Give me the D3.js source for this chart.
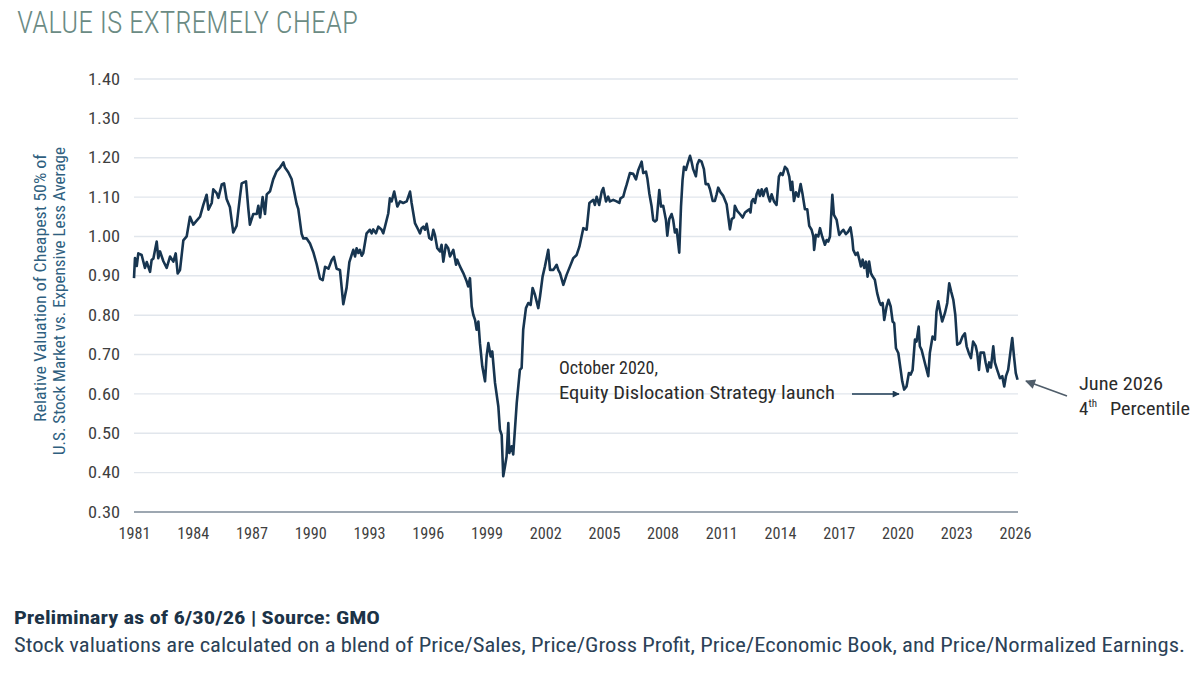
<!DOCTYPE html>
<html>
<head>
<meta charset="utf-8">
<script src="https://cdn.jsdelivr.net/npm/d3@7"></script>
<style>
  body { margin: 0; background: #fff; }
  svg text { font-family: "Roboto Condensed", Roboto, "Liberation Sans", sans-serif; }
</style>
</head>
<body>
<div id="chart"></div>
<script>
// decimal years and the relative valuation
const years = [
  1981.00,1981.05,1981.14,1981.22,1981.39,1981.56,1981.65,1981.82,1981.90,1981.99,
  1982.16,1982.24,1982.33,1982.50,1982.67,1982.84,1983.01,1983.13,1983.23,1983.35,
  1983.52,1983.69,1983.86,1984.03,1984.20,1984.37,1984.54,1984.71,1984.80,1984.97,
  1985.05,1985.22,1985.31,1985.48,1985.60,1985.73,1985.90,1986.07,1986.24,1986.41,
  1986.50,1986.72,1986.84,1986.92,1987.09,1987.27,1987.35,1987.44,1987.57,1987.69,
  1987.78,1987.95,1988.11,1988.29,1988.46,1988.63,1988.71,1988.88,1989.05,1989.22,
  1989.31,1989.39,1989.56,1989.65,1989.82,1989.99,1990.16,1990.33,1990.50,1990.64,
  1990.76,1990.93,1991.10,1991.21,1991.35,1991.52,1991.69,1991.86,1992.00,1992.20,
  1992.29,1992.37,1992.46,1992.54,1992.63,1992.71,1992.88,1993.05,1993.14,1993.22,
  1993.36,1993.48,1993.65,1993.73,1993.82,1993.99,1994.07,1994.16,1994.29,1994.45,
  1994.59,1994.75,1994.93,1995.10,1995.18,1995.35,1995.52,1995.61,1995.69,1995.78,
  1995.86,1995.95,1996.08,1996.20,1996.29,1996.37,1996.49,1996.63,1996.71,1996.80,
  1996.93,1997.05,1997.14,1997.31,1997.45,1997.51,1997.65,1997.82,1997.99,1998.07,
  1998.16,1998.25,1998.33,1998.42,1998.50,1998.59,1998.67,1998.79,1998.93,1999.01,
  1999.10,1999.22,1999.30,1999.44,1999.61,1999.69,1999.78,1999.86,1999.95,2000.03,
  2000.12,2000.17,2000.29,2000.37,2000.55,2000.71,2000.80,2000.88,2001.02,2001.14,
  2001.26,2001.36,2001.48,2001.65,2001.74,2001.87,2001.99,2002.16,2002.25,2002.42,
  2002.59,2002.67,2002.76,2002.93,2003.10,2003.27,2003.44,2003.61,2003.75,2003.95,
  2004.12,2004.26,2004.46,2004.54,2004.63,2004.76,2004.89,2004.97,2005.11,2005.22,
  2005.31,2005.48,2005.65,2005.79,2005.85,2005.99,2006.08,2006.16,2006.33,2006.50,
  2006.64,2006.76,2006.93,2007.01,2007.15,2007.22,2007.32,2007.44,2007.52,2007.61,
  2007.70,2007.83,2007.92,2008.03,2008.17,2008.24,2008.34,2008.46,2008.54,2008.63,
  2008.72,2008.85,2008.94,2009.02,2009.09,2009.19,2009.26,2009.40,2009.48,2009.56,
  2009.70,2009.77,2009.87,2009.99,2010.11,2010.20,2010.33,2010.42,2010.56,2010.67,
  2010.76,2010.84,2010.96,2011.10,2011.27,2011.35,2011.44,2011.53,2011.64,2011.69,
  2011.81,2011.95,2012.09,2012.21,2012.32,2012.43,2012.49,2012.55,2012.63,2012.72,
  2012.80,2012.89,2012.97,2013.06,2013.14,2013.23,2013.31,2013.40,2013.48,2013.57,
  2013.69,2013.82,2013.94,2014.03,2014.13,2014.25,2014.36,2014.47,2014.55,2014.62,
  2014.71,2014.81,2014.93,2015.05,2015.15,2015.27,2015.39,2015.49,2015.61,2015.70,
  2015.74,2015.83,2015.95,2016.04,2016.15,2016.29,2016.38,2016.46,2016.55,2016.67,
  2016.75,2016.89,2017.02,2017.14,2017.23,2017.36,2017.48,2017.60,2017.69,2017.74,
  2017.86,2017.96,2018.05,2018.13,2018.22,2018.30,2018.39,2018.47,2018.55,2018.64,
  2018.73,2018.84,2018.96,2019.07,2019.15,2019.24,2019.32,2019.44,2019.54,2019.65,
  2019.75,2019.83,2019.92,2020.04,2020.16,2020.24,2020.34,2020.46,2020.58,2020.67,
  2020.77,2020.89,2020.97,2021.08,2021.14,2021.23,2021.40,2021.57,2021.65,2021.79,
  2021.91,2021.99,2022.08,2022.16,2022.28,2022.42,2022.54,2022.64,2022.74,2022.85,
  2022.95,2023.05,2023.19,2023.32,2023.44,2023.53,2023.64,2023.75,2023.86,2023.99,
  2024.07,2024.16,2024.24,2024.33,2024.41,2024.50,2024.60,2024.68,2024.77,2024.89,
  2024.97,2025.09,2025.23,2025.35,2025.45,2025.54,2025.65,2025.78,2025.86,2025.95,
  2026.04,2026.13
];
const values = [
  0.894,0.945,0.925,0.957,0.953,0.920,0.935,0.910,0.940,0.944,
  0.987,0.945,0.962,0.937,0.920,0.949,0.936,0.957,0.906,0.915,
  0.990,1.000,1.050,1.030,1.040,1.050,1.080,1.106,1.068,1.085,
  1.120,1.110,1.098,1.132,1.135,1.095,1.074,1.010,1.027,1.100,
  1.135,1.140,1.070,1.030,1.057,1.057,1.078,1.048,1.100,1.057,
  1.107,1.115,1.145,1.166,1.175,1.188,1.175,1.163,1.146,1.104,
  1.082,1.070,1.007,0.995,0.995,0.982,0.960,0.930,0.893,0.889,
  0.923,0.918,0.940,0.948,0.918,0.915,0.828,0.870,0.935,0.966,
  0.949,0.970,0.958,0.966,0.951,0.958,1.008,1.017,1.008,1.018,
  1.008,1.025,1.017,1.008,1.025,1.059,1.097,1.089,1.114,1.076,
  1.089,1.085,1.089,1.114,1.085,1.034,1.017,1.008,1.021,1.025,
  1.017,1.032,0.996,0.992,1.017,1.004,0.970,0.962,0.979,0.936,
  0.979,0.970,0.949,0.966,0.928,0.941,0.924,0.907,0.886,0.873,
  0.894,0.822,0.801,0.788,0.763,0.784,0.729,0.670,0.632,0.695,
  0.729,0.695,0.708,0.628,0.568,0.509,0.496,0.391,0.416,0.441,
  0.526,0.450,0.467,0.446,0.577,0.661,0.666,0.763,0.818,0.831,
  0.826,0.869,0.852,0.818,0.848,0.898,0.924,0.966,0.915,0.915,
  0.928,0.915,0.907,0.877,0.903,0.924,0.945,0.953,0.974,1.021,
  1.017,1.085,1.093,1.080,1.101,1.080,1.114,1.123,1.089,1.101,
  1.089,1.093,1.089,1.085,1.097,1.101,1.118,1.131,1.161,1.159,
  1.145,1.169,1.190,1.161,1.165,1.148,1.110,1.076,1.042,1.038,
  1.042,1.118,1.076,1.078,1.042,1.002,1.044,1.057,1.042,1.010,
  1.018,0.959,1.076,1.144,1.177,1.169,1.182,1.205,1.190,1.171,
  1.153,1.182,1.194,1.190,1.171,1.133,1.133,1.120,1.090,1.090,
  1.107,1.124,1.112,1.103,1.082,1.052,1.018,1.044,1.048,1.078,
  1.065,1.057,1.048,1.061,1.065,1.069,1.061,1.089,1.095,1.085,
  1.107,1.118,1.103,1.120,1.103,1.118,1.122,1.101,1.089,1.107,
  1.089,1.080,1.152,1.161,1.156,1.177,1.171,1.152,1.118,1.139,
  1.090,1.112,1.101,1.133,1.107,1.069,1.069,1.027,1.017,1.000,
  0.966,1.004,1.000,1.021,1.000,0.979,0.991,0.987,1.000,1.106,
  1.055,1.042,1.004,1.012,1.017,1.006,1.012,1.023,0.993,0.966,
  0.953,0.959,0.941,0.924,0.941,0.920,0.936,0.898,0.936,0.907,
  0.898,0.890,0.856,0.835,0.826,0.831,0.788,0.822,0.839,0.822,
  0.784,0.780,0.716,0.704,0.661,0.632,0.611,0.619,0.653,0.649,
  0.661,0.738,0.733,0.771,0.721,0.712,0.678,0.645,0.704,0.746,
  0.738,0.809,0.835,0.814,0.784,0.805,0.831,0.881,0.860,0.839,
  0.801,0.725,0.729,0.746,0.754,0.721,0.704,0.691,0.733,0.722,
  0.704,0.661,0.705,0.705,0.705,0.680,0.657,0.680,0.667,0.721,
  0.680,0.661,0.640,0.645,0.619,0.645,0.661,0.712,0.742,0.695,
  0.653,0.636
];
const xTicks = [1981,1984,1987,1990,1993,1996,1999,2002,2005,2008,2011,2014,2017,2020,2023,2026];
const yTicks = [0.30,0.40,0.50,0.60,0.70,0.80,0.90,1.00,1.10,1.20,1.30,1.40];

const data = years.map((y, i) => ({ year: y, value: values[i] }));

const W = 1200, H = 677;
const plotLeft = 134, plotRight = 1015, plotTop = 79, plotBottom = 512;

const svg = d3.select("#chart").append("svg")
  .attr("width", W).attr("height", H);

const defs = svg.append("defs");
defs.append("marker")
  .attr("id", "arrNavy").attr("viewBox", "0 0 10 10")
  .attr("refX", 9).attr("refY", 5)
  .attr("markerWidth", 10).attr("markerHeight", 7)
  .attr("markerUnits", "userSpaceOnUse")
  .attr("orient", "auto")
  .append("path").attr("d", "M0,0 L10,5 L0,10 Z").attr("fill", "#1d3a52");
defs.append("marker")
  .attr("id", "arrGray").attr("viewBox", "0 0 10 10")
  .attr("refX", 9).attr("refY", 5)
  .attr("markerWidth", 12).attr("markerHeight", 10)
  .attr("markerUnits", "userSpaceOnUse")
  .attr("orient", "auto")
  .append("path").attr("d", "M0,0 L10,5 L0,10 Z").attr("fill", "#4f5d6a");

const x = d3.scaleLinear().domain([1981, 2026]).range([plotLeft, plotRight]);
const y = d3.scaleLinear().domain([0.3, 1.4]).range([plotBottom, plotTop]);

// title
svg.append("text")
  .attr("x", 17).attr("y", 33)
  .attr("font-size", 31).attr("font-weight", 300)
  .attr("fill", "#6b8b84")
  .attr("textLength", 341).attr("lengthAdjust", "spacingAndGlyphs")
  .text("VALUE IS EXTREMELY CHEAP");

// gridlines
svg.append("g")
  .selectAll("line")
  .data(yTicks.filter(d => d > 0.3))
  .enter().append("line")
  .attr("x1", plotLeft).attr("x2", 1018)
  .attr("y1", d => y(d)).attr("y2", d => y(d))
  .attr("stroke", "#e1e6ec").attr("stroke-width", 1.4);

svg.append("line")
  .attr("x1", plotLeft).attr("x2", 1018)
  .attr("y1", y(0.3)).attr("y2", y(0.3))
  .attr("stroke", "#7d8a97").attr("stroke-width", 1.6);

// y axis
const yAxis = d3.axisLeft(y).tickValues(yTicks).tickFormat(d3.format(".2f")).tickSize(0).tickPadding(0);
svg.append("g")
  .attr("transform", "translate(120,0)")
  .call(yAxis)
  .call(g => g.select(".domain").remove())
  .selectAll("text")
  .attr("font-size", 16).attr("fill", "#3f3f3f")
  .attr("font-family", "Roboto, sans-serif")
  .attr("textLength", 32).attr("lengthAdjust", "spacingAndGlyphs");

// x axis
const xAxis = d3.axisBottom(x).tickValues(xTicks).tickFormat(d3.format("d")).tickSize(0).tickPadding(0);
svg.append("g")
  .attr("transform", "translate(0," + (plotBottom + 16) + ")")
  .call(xAxis)
  .call(g => g.select(".domain").remove())
  .selectAll("text")
  .attr("font-size", 16).attr("fill", "#3f3f3f")
  .attr("font-family", "Roboto, sans-serif")
  .attr("textLength", 32).attr("lengthAdjust", "spacingAndGlyphs");

// y axis title, two lines
svg.append("text")
  .attr("transform", "translate(46,288) rotate(-90)")
  .attr("text-anchor", "middle")
  .attr("font-size", 16).attr("fill", "#2f5f7f")
  .attr("textLength", 268).attr("lengthAdjust", "spacingAndGlyphs")
  .text("Relative Valuation of Cheapest 50% of");
svg.append("text")
  .attr("transform", "translate(65,301) rotate(-90)")
  .attr("text-anchor", "middle")
  .attr("font-size", 16).attr("fill", "#2f5f7f")
  .attr("textLength", 308).attr("lengthAdjust", "spacingAndGlyphs")
  .text("U.S. Stock Market vs. Expensive Less Average");

// series line
const line = d3.line().x(d => x(d.year)).y(d => y(d.value));
svg.append("path")
  .datum(data)
  .attr("d", line)
  .attr("fill", "none")
  .attr("stroke", "#173550")
  .attr("stroke-width", 2.6)
  .attr("stroke-linejoin", "round");

// October 2020 annotation
svg.append("text")
  .attr("x", 559).attr("y", 374)
  .attr("font-size", 19).attr("fill", "#2b2b2b")
  .attr("textLength", 99).attr("lengthAdjust", "spacingAndGlyphs")
  .text("October 2020,");
svg.append("text")
  .attr("x", 559).attr("y", 399)
  .attr("font-size", 19).attr("fill", "#2b2b2b")
  .attr("textLength", 276).attr("lengthAdjust", "spacingAndGlyphs")
  .text("Equity Dislocation Strategy launch");
svg.append("line")
  .attr("x1", 852).attr("y1", 394).attr("x2", 899).attr("y2", 394)
  .attr("stroke", "#1d3a52").attr("stroke-width", 1.5)
  .attr("marker-end", "url(#arrNavy)");

// June 2026 annotation
svg.append("line")
  .attr("x1", 1067).attr("y1", 396).attr("x2", 1026).attr("y2", 381)
  .attr("stroke", "#4f5d6a").attr("stroke-width", 1.6)
  .attr("marker-end", "url(#arrGray)");
svg.append("text")
  .attr("x", 1079).attr("y", 390)
  .attr("font-size", 19).attr("fill", "#2b2b2b")
  .attr("textLength", 84).attr("lengthAdjust", "spacingAndGlyphs")
  .text("June 2026");
const pct = svg.append("text")
  .attr("x", 1079).attr("y", 415)
  .attr("font-size", 19).attr("fill", "#2b2b2b");
pct.append("tspan").text("4");
pct.append("tspan").attr("font-size", 11).attr("dy", -8).text("th");
pct.append("tspan").attr("x", 1110).attr("dy", 8)
  .attr("textLength", 80).attr("lengthAdjust", "spacingAndGlyphs")
  .text("Percentile");

// footer
svg.append("text")
  .attr("x", 14).attr("y", 624)
  .attr("font-size", 19).attr("font-weight", 700).attr("fill", "#1c3347")
  .attr("textLength", 366).attr("lengthAdjust", "spacingAndGlyphs")
  .text("Preliminary as of 6/30/26 | Source: GMO");
svg.append("text")
  .attr("x", 14).attr("y", 652)
  .attr("font-size", 19.5).attr("fill", "#2b4257")
  .attr("textLength", 1171).attr("lengthAdjust", "spacingAndGlyphs")
  .text("Stock valuations are calculated on a blend of Price/Sales, Price/Gross Profit, Price/Economic Book, and Price/Normalized Earnings.");
</script>
</body>
</html>
